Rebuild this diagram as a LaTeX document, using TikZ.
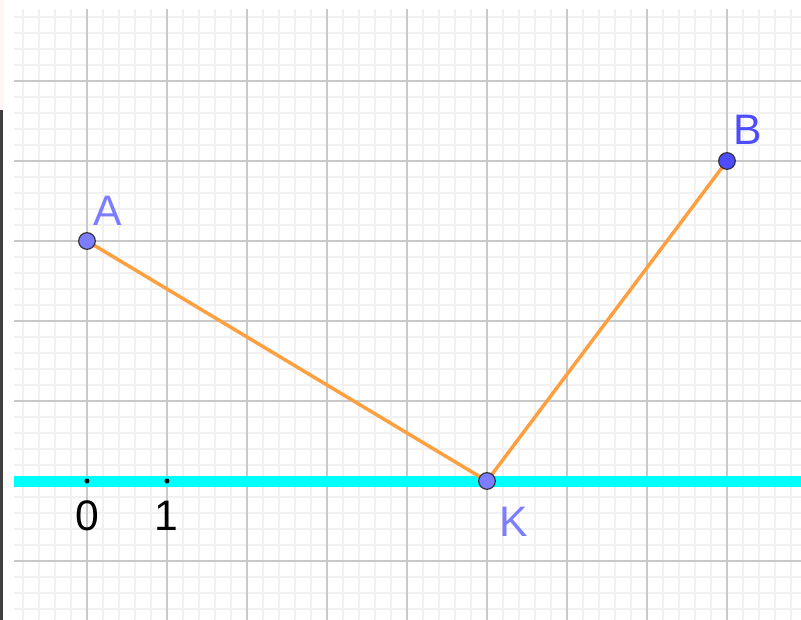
\documentclass[tikz,border=0pt]{standalone}
\usepackage{fontspec}
\setmainfont{Liberation Sans}
\begin{document}
\begin{tikzpicture}[x=0.75pt,y=-0.75pt,
  minorgrid/.style={draw=gray!11,line width=1.1pt},
  majorgrid/.style={draw=gray!42,line width=1.1pt},
  pt/.style={circle,draw=black!80,line width=0.9pt,minimum size=12.5pt,inner sep=0pt},
  seg/.style={draw={rgb,255:red,255;green,160;blue,64},line width=2.6pt},
  lbl/.style={font=\fontsize{32}{33}\selectfont,inner sep=0pt},
  tick/.style={circle,fill=black,minimum size=3.8pt,inner sep=0pt}]
\useasboundingbox (0,0) rectangle (801,620);
\fill[white] (0,0) rectangle (801,620);
% left edge artifact
\fill[red!4] (0,0) rectangle (4,110);
\fill[black!75] (0,110) rectangle (3,620);
% minor grid
\foreach \x in {23,39,...,791} \draw[minorgrid] (\x,9) -- (\x,620);
\foreach \y in {17,33,...,609} \draw[minorgrid] (14,\y) -- (801,\y);
% major grid
\foreach \x in {87,167,...,727} \draw[majorgrid] (\x,9) -- (\x,620);
\foreach \y in {81,161,...,561} \draw[majorgrid] (14,\y) -- (801,\y);
% axis line
\coordinate (axL) at (14,481.5);
\coordinate (axR) at (801,481.5);
\draw[draw={rgb,255:red,0;green,255;blue,255},line width=8.3pt] (axL) -- (axR);
\node[tick] (t0) at (87,481) {};
\node[tick] (t1) at (167,481) {};
\node[lbl] (l0) at (87,516) {0};
\node[lbl] (l1) at (166,516) {1};
% points
\coordinate (A) at (87,241);
\coordinate (B) at (727,161);
\coordinate (K) at (487,481);
\draw[seg] (A) -- (K) -- (B);
\node[pt,fill={rgb,255:red,125;green,125;blue,255}] (pA) at (A) {};
\node[pt,fill={rgb,255:red,77;green,77;blue,255}] (pB) at (B) {};
\node[pt,fill={rgb,255:red,125;green,125;blue,255}] (pK) at (K) {};
\node[lbl,text={rgb,255:red,125;green,125;blue,255}] (lA) at (108,211) {A};
\node[lbl,text={rgb,255:red,77;green,77;blue,255}] (lB) at (748,130) {B};
\node[lbl,text={rgb,255:red,125;green,125;blue,255}] (lK) at (514,522) {K};
\end{tikzpicture}
\end{document}
